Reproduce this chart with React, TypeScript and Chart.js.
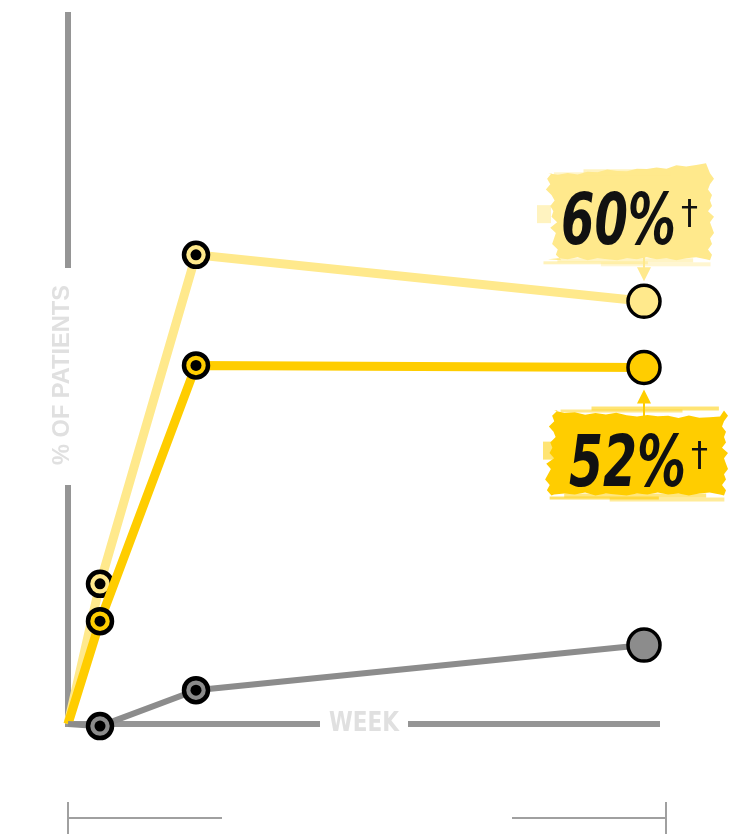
import { useEffect, useRef } from "react";
import { Chart, registerables, type Plugin } from "chart.js";

Chart.register(...registerables);

// weeks on the x axis, % of patients on the y axis
const weeks = [0, 1, 4, 18];
const lightValues = [0, 19.9, 66.6, 60];
const yellowValues = [0, 14.6, 50.9, 50.6];
const grayValues = [0, -0.3, 4.8, 11.2];
const calloutLabels = ["60%", "52%"];
const calloutMark = "†";
const yAxisTitle = "% OF PATIENTS";
const xAxisTitle = "WEEK";

const AXIS = "#959595";
const TITLE = "#e0e0e0";
const LIGHT = "#ffe98c";
const YELLOW = "#ffcd00";
const GRAY = "#8c8c8c";

const toPoints = (vals: number[]) => vals.map((v, i) => ({ x: weeks[i], y: v }));

// ragged edge offsets for the brush shapes (pure styling)
const rag = [0, 2, 1, 3, 1, 2, 0, 2, 3, 1, 2, 1, 3, 0, 2, 1];

type Brush = { x0: number; x1: number; y0: number; y1: number; slant: number };

function drawBrush(ctx: CanvasRenderingContext2D, cx: number, cy: number, color: string, b: Brush) {
  const L = cx + b.x0, R = cx + b.x1, T = cy + b.y0, B = cy + b.y1;
  const n = rag.length;
  ctx.save();
  ctx.fillStyle = color;
  ctx.beginPath();
  for (let i = 0; i <= n; i++) ctx.lineTo(L + 8 + ((R - L - 16) * i) / n, T + 5 + rag[i % n] - (b.slant * i) / n);
  for (let i = 0; i <= n; i++) ctx.lineTo(R - rag[(i + 5) % n] * 2, T + 5 + ((B - T - 10) * i) / n);
  for (let i = n; i >= 0; i--) ctx.lineTo(L + 8 + ((R - L - 16) * i) / n, B - 5 - rag[(i + 9) % n]);
  for (let i = n; i >= 0; i--) ctx.lineTo(L + 4 + rag[(i + 3) % n] * 2.5 + (b.slant * i) / n, T + 5 + ((B - T - 10) * i) / n);
  ctx.closePath();
  ctx.fill();

  // loose bristle streaks along the top and bottom edges
  const streaks: [number, number, number, number][] = [
    [0.25, 0.95, 1, 0.55],
    [0.08, 0.75, 4, 0.45],
    [0.1, 0.88, -7, 0.5],
    [0.02, 0.62, -4, 0.6],
    [0.35, 0.98, -3, 0.4],
  ];
  streaks.forEach(([a, z, dy, al], k) => {
    ctx.globalAlpha = al;
    const y = dy >= 0 ? T + dy : B + dy;
    ctx.fillRect(L + (R - L) * a, y, (R - L) * (z - a), k % 2 ? 3 : 4);
  });
  ctx.globalAlpha = 0.55;
  ctx.fillRect(L - 3, T + (B - T) * 0.38, 14, 18);
  ctx.restore();
}

function drawCallout(ctx: CanvasRenderingContext2D, text: string, left: number, base: number, width: number) {
  ctx.save();
  ctx.fillStyle = "#111";
  ctx.font = 'italic bold 72px "DejaVu Sans Condensed", "DejaVu Sans", sans-serif';
  ctx.textAlign = "left";
  ctx.textBaseline = "alphabetic";
  const w = ctx.measureText(text).width;
  ctx.translate(left, base);
  ctx.scale(width / w, 1);
  ctx.fillText(text, 0, 0);
  ctx.restore();
  ctx.save();
  ctx.fillStyle = "#111";
  ctx.font = '34px "DejaVu Sans", sans-serif';
  ctx.fillText(calloutMark, left + width + 5, base - 20);
  ctx.restore();
}

function drawArrow(ctx: CanvasRenderingContext2D, x: number, from: number, tip: number, color: string) {
  const dir = tip > from ? 1 : -1;
  ctx.save();
  ctx.strokeStyle = color;
  ctx.fillStyle = color;
  ctx.lineWidth = 2;
  ctx.beginPath();
  ctx.moveTo(x, from);
  ctx.lineTo(x, tip - dir * 12);
  ctx.stroke();
  ctx.beginPath();
  ctx.moveTo(x, tip);
  ctx.lineTo(x - 7, tip - dir * 14);
  ctx.lineTo(x + 7, tip - dir * 14);
  ctx.closePath();
  ctx.fill();
  ctx.restore();
}

const decorPlugin: Plugin<"line"> = {
  id: "decor",
  beforeDatasetsDraw(chart) {
    const { ctx, scales } = chart;
    const x0 = scales.x.getPixelForValue(0);
    const y0 = scales.y.getPixelForValue(0);
    const xEnd = scales.x.getPixelForValue(18.5);
    ctx.save();
    ctx.strokeStyle = AXIS;
    ctx.lineWidth = 6;
    ctx.beginPath();
    ctx.moveTo(x0, 12);
    ctx.lineTo(x0, 268);
    ctx.moveTo(x0, 485);
    ctx.lineTo(x0, y0 + 3);
    ctx.moveTo(x0 - 3, y0);
    ctx.lineTo(320, y0);
    ctx.moveTo(408, y0);
    ctx.lineTo(xEnd, y0);
    ctx.stroke();

    // bottom bracket
    ctx.lineWidth = 2;
    ctx.strokeStyle = "#a0a0a0";
    ctx.beginPath();
    ctx.moveTo(x0, 818);
    ctx.lineTo(222, 818);
    ctx.moveTo(512, 818);
    ctx.lineTo(xEnd + 6, 818);
    ctx.moveTo(x0, 802);
    ctx.lineTo(x0, 834);
    ctx.moveTo(xEnd + 6, 802);
    ctx.lineTo(xEnd + 6, 834);
    ctx.stroke();

    ctx.fillStyle = TITLE;
    ctx.textAlign = "center";
    ctx.textBaseline = "middle";
    ctx.font = 'bold 27px "DejaVu Sans Condensed", "Liberation Sans Narrow", sans-serif';
    const ww = ctx.measureText(xAxisTitle).width;
    ctx.save();
    ctx.translate(364, y0);
    ctx.scale(70 / ww, 1);
    ctx.fillText(xAxisTitle, 0, 0);
    ctx.restore();

    ctx.font = 'bold 23px "Liberation Sans", Arial, sans-serif';
    const wy = ctx.measureText(yAxisTitle).width;
    ctx.translate(63, 375);
    ctx.rotate(-Math.PI / 2);
    ctx.scale(180 / wy, 1);
    ctx.fillText(yAxisTitle, 0, 0);
    ctx.restore();
  },
  afterDatasetsDraw(chart) {
    const { ctx } = chart;
    chart.data.datasets.forEach((_, di) => {
      const meta = chart.getDatasetMeta(di);
      [1, 2].forEach((i) => {
        const el = meta.data[i];
        ctx.save();
        ctx.fillStyle = "#000";
        ctx.beginPath();
        ctx.arc(el.x, el.y, 5.5, 0, Math.PI * 2);
        ctx.fill();
        ctx.restore();
      });
    });

    const lightEl = chart.getDatasetMeta(2).data[3];
    const yellowEl = chart.getDatasetMeta(1).data[3];

    drawArrow(ctx, lightEl.x, lightEl.y - 48, lightEl.y - 20, LIGHT);
    drawBrush(ctx, lightEl.x, lightEl.y, LIGHT, { x0: -104, x1: 70, y0: -133, y1: -36, slant: 10 });
    drawCallout(ctx, calloutLabels[0], lightEl.x - 83, lightEl.y - 57, 115);

    drawArrow(ctx, yellowEl.x, yellowEl.y + 56, yellowEl.y + 22, YELLOW);
    drawBrush(ctx, yellowEl.x, yellowEl.y, YELLOW, { x0: -98, x1: 84, y0: 38, y1: 133, slant: -6 });
    drawCallout(ctx, calloutLabels[1], yellowEl.x - 75, yellowEl.y + 118, 117);
  },
};

export default function App() {
  const canvasRef = useRef<HTMLCanvasElement | null>(null);

  useEffect(() => {
    document.body.style.margin = "0";
    if (!canvasRef.current) return;

    const chart = new Chart(canvasRef.current, {
      type: "line",
      data: {
        datasets: [
          {
            label: "gray",
            data: toPoints(grayValues),
            borderColor: GRAY,
            borderWidth: 6,
            pointRadius: [0, 12, 12, 16],
            pointBorderWidth: [0, 4.5, 4.5, 3.5],
            pointBackgroundColor: GRAY,
            pointBorderColor: "#000",
            clip: false,
          },
          {
            label: "yellow",
            data: toPoints(yellowValues),
            borderColor: YELLOW,
            borderWidth: 9,
            pointRadius: [0, 12, 12, 16],
            pointBorderWidth: [0, 4.5, 4.5, 3.5],
            pointBackgroundColor: YELLOW,
            pointBorderColor: "#000",
            clip: false,
          },
          {
            label: "light",
            data: toPoints(lightValues),
            borderColor: LIGHT,
            borderWidth: 9,
            pointRadius: [0, 12, 12, 16],
            pointBorderWidth: [0, 4.5, 4.5, 3.5],
            pointBackgroundColor: LIGHT,
            pointBorderColor: "#000",
            clip: false,
          },
        ],
      },
      options: {
        animation: false,
        responsive: true,
        maintainAspectRatio: false,
        layout: { padding: { left: 68, right: 76, top: 17, bottom: 112 } },
        plugins: {
          legend: { display: false },
          tooltip: { enabled: false },
        },
        scales: {
          x: { type: "linear", min: 0, max: 18.5, display: false },
          y: { min: 0, max: 100, display: false },
        },
      },
      plugins: [decorPlugin],
    });

    return () => {
      chart.destroy();
    };
  }, []);

  return (
    <div style={{ position: "relative", width: 736, height: 836 }}>
      <canvas ref={canvasRef} />
    </div>
  );
}
